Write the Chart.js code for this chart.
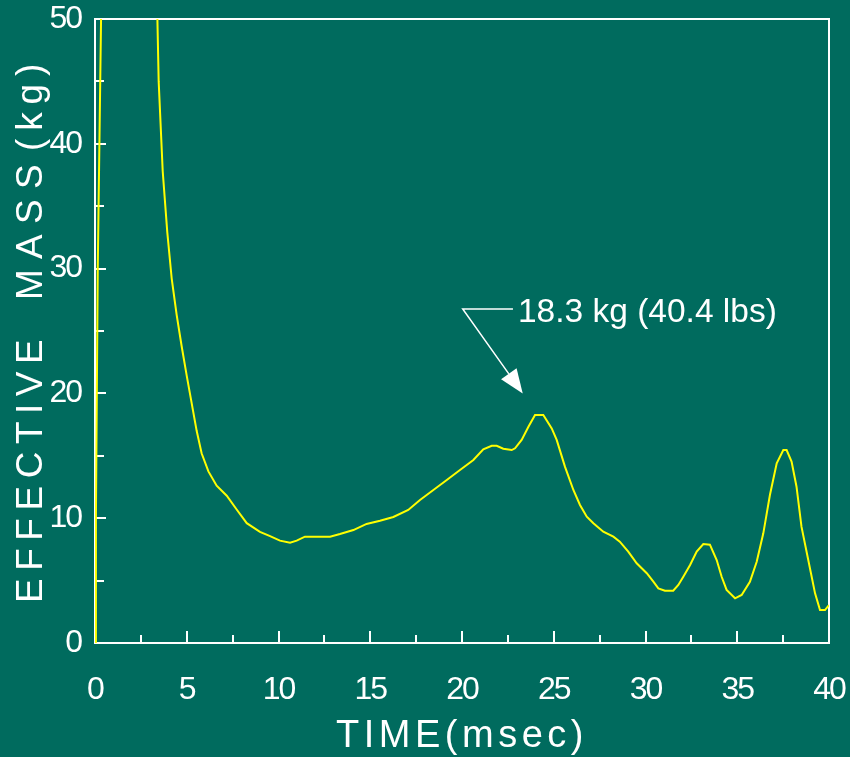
<!DOCTYPE html>
<html><head><meta charset="utf-8">
<script src="https://cdn.jsdelivr.net/npm/chart.js@4.4.1/dist/chart.umd.min.js"></script>
<style>html,body{margin:0;padding:0;background:#006B5E;overflow:hidden}canvas{display:block}</style>
</head><body>
<canvas id="c" width="850" height="757"></canvas>
<script>
const timeMs = [0,0.05,0.15,0.33,1.8,3.40,3.47,3.69,3.94,4.18,4.45,4.72,5.0,5.27,5.54,5.81,6.18,6.63,7.18,7.72,8.27,8.99,9.54,10.08,10.63,10.99,11.44,12.81,13.35,14.08,14.8,15.53,16.26,17.07,17.71,18.44,19.17,19.89,20.62,21.16,21.62,21.89,22.25,22.71,22.89,23.25,23.62,23.98,24.43,24.89,25.16,25.61,26.07,26.43,26.8,27.16,27.7,28.25,28.6,29.06,29.52,30.07,30.43,30.7,31.06,31.51,31.79,32.06,32.43,32.79,33.15,33.51,33.88,34.15,34.42,34.88,35.24,35.69,36.06,36.42,36.78,37.15,37.51,37.69,37.96,38.23,38.5,38.87,39.24,39.51,39.78,40.0];
const massKg = [0,10,30,50,null,50,45.0,37.8,32.9,29.2,26.3,23.8,21.4,19.2,17.0,15.2,13.75,12.6,11.8,10.7,9.6,8.9,8.57,8.2,8.04,8.2,8.52,8.52,8.73,9.05,9.54,9.8,10.1,10.66,11.46,12.26,13.06,13.86,14.66,15.52,15.8,15.8,15.57,15.46,15.6,16.27,17.33,18.27,18.27,17.2,16.27,14.13,12.26,11.06,10.12,9.59,8.92,8.52,8.12,7.32,6.39,5.59,4.91,4.38,4.19,4.19,4.65,5.31,6.25,7.32,7.93,7.88,6.65,5.31,4.25,3.58,3.85,4.91,6.51,8.79,11.86,14.4,15.46,15.46,14.53,12.52,9.32,6.65,3.98,2.64,2.64,3.04];
const xTicks = [0,5,10,15,20,25,30,35,40];
const yTicks = [0,10,20,30,40,50];
const xMinorTicks = [2.5,7.5,12.5,17.5,22.5,27.5,32.5,37.5];
const yMinorTicks = [5,15,25,35,45];
const xTitle = 'TIME(msec)';
const yTitle = 'EFFECTIVE MASS (kg)';
const peakLabel = '18.3 kg (40.4 lbs)';
const peakTip = [23.31, 20.0];
const peakElbow = [20.04, 26.76];
const peakText = [23.05, 25.72];

const FONT = '"Liberation Sans", Arial, sans-serif';
const WHITE = '#ffffff';
// pixel spans (bottom, top) of each word of the rotated y title
const Y_TITLE_SPANS = [[600, 340], [297, 166], [149, 65]];

const decor = {
  id: 'decor',
  beforeDraw(chart) { chart.ctx.letterSpacing = '-2px'; },
  beforeDatasetsDraw(chart) {
    const {ctx, chartArea: a, scales: {x, y}} = chart;
    ctx.letterSpacing = '0px';
    ctx.save();
    ctx.strokeStyle = WHITE; ctx.lineWidth = 2;
    ctx.strokeRect(a.left, a.top, a.right - a.left, a.bottom - a.top);
    ctx.beginPath();
    yTicks.concat(yMinorTicks).forEach(v => {
      const len = yTicks.includes(v) ? 11 : 9;
      const py = Math.round(y.getPixelForValue(v));
      ctx.moveTo(a.left, py); ctx.lineTo(a.left + len, py);
    });
    xTicks.concat(xMinorTicks).forEach(v => {
      const len = xTicks.includes(v) ? 12 : 8;
      const px = Math.round(x.getPixelForValue(v));
      ctx.moveTo(px, a.bottom); ctx.lineTo(px, a.bottom - len);
    });
    ctx.stroke();
    ctx.restore();
  },
  afterDatasetsDraw(chart) {
    const {ctx, scales: {x, y}} = chart;
    const tx = x.getPixelForValue(peakTip[0]), ty = y.getPixelForValue(peakTip[1]);
    const ex = x.getPixelForValue(peakElbow[0]), ey = y.getPixelForValue(peakElbow[1]);
    const lx = x.getPixelForValue(peakText[0]), ly = y.getPixelForValue(peakText[1]);
    ctx.save();
    ctx.strokeStyle = WHITE; ctx.fillStyle = WHITE; ctx.lineWidth = 1.5;
    const dx = tx - ex, dy = ty - ey, L = Math.hypot(dx, dy), ux = dx / L, uy = dy / L;
    const hl = 24, hw = 9.5;
    const bx = tx - ux * hl, by = ty - uy * hl;
    ctx.beginPath();
    ctx.moveTo(lx - 5, ey); ctx.lineTo(ex, ey); ctx.lineTo(bx, by);
    ctx.stroke();
    ctx.beginPath();
    ctx.moveTo(tx, ty);
    ctx.lineTo(bx - uy * hw, by + ux * hw);
    ctx.lineTo(bx + uy * hw, by - ux * hw);
    ctx.closePath(); ctx.fill();
    ctx.font = '33.5px ' + FONT;
    ctx.textAlign = 'left'; ctx.textBaseline = 'alphabetic';
    ctx.fillText(peakLabel, lx, ly);
    ctx.restore();
  },
  afterDraw(chart) {
    const {ctx, chartArea: a} = chart;
    ctx.save();
    ctx.fillStyle = WHITE;
    ctx.font = '38px ' + FONT;
    ctx.letterSpacing = '4.5px';
    ctx.textAlign = 'center'; ctx.textBaseline = 'alphabetic';
    ctx.fillText(xTitle, (a.left + a.right) / 2, 747);
    ctx.restore();

    ctx.save();
    ctx.fillStyle = WHITE;
    ctx.font = '37px ' + FONT;
    ctx.textAlign = 'left'; ctx.textBaseline = 'alphabetic';
    ctx.translate(42, 0);
    ctx.rotate(-Math.PI / 2);
    yTitle.split(' ').forEach((word, i) => {
      const [bottom, top] = Y_TITLE_SPANS[i];
      ctx.letterSpacing = '0px';
      const m = ctx.measureText(word);
      const ink = m.actualBoundingBoxLeft + m.actualBoundingBoxRight;
      const chars = [...word].length;
      const ls = (bottom - top - ink) / (chars - 1);
      ctx.letterSpacing = ls + 'px';
      ctx.fillText(word, -bottom + m.actualBoundingBoxLeft, 0);
    });
    ctx.restore();
  }
};

function noPad(s) { s.paddingLeft = 0; s.paddingRight = 0; s.paddingTop = 0; s.paddingBottom = 0; }

new Chart(document.getElementById('c'), {
  type: 'line',
  data: {
    datasets: [{
      data: timeMs.map((t, i) => ({x: t, y: massKg[i]})),
      borderColor: '#ffff00', borderWidth: 2, pointRadius: 0, tension: 0,
      spanGaps: false, fill: false
    }]
  },
  options: {
    responsive: false, animation: false,
    layout: {padding: {left: 0, right: 21, top: 19, bottom: 0}},
    plugins: {legend: {display: false}, tooltip: {enabled: false}},
    scales: {
      x: {
        type: 'linear', min: 0, max: 40,
        afterBuildTicks: s => { s.ticks = xTicks.map(v => ({value: v})); },
        afterFit: s => { s.height = 114; noPad(s); },
        grid: {display: false, drawTicks: false}, border: {display: false},
        ticks: {color: WHITE, font: {family: FONT, size: 32}, padding: 28, maxRotation: 0, autoSkip: false}
      },
      y: {
        type: 'linear', min: 0, max: 50,
        afterBuildTicks: s => { s.ticks = yTicks.map(v => ({value: v})); },
        afterFit: s => { s.width = 95; noPad(s); },
        grid: {display: false, drawTicks: false}, border: {display: false},
        ticks: {color: WHITE, font: {family: FONT, size: 32}, padding: 14, autoSkip: false}
      }
    }
  },
  plugins: [decor]
});
</script>
</body></html>
